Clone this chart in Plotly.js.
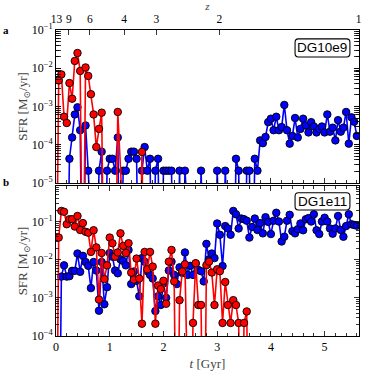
<!DOCTYPE html>
<html>
<head>
<meta charset="utf-8">
<script src="https://cdn.plot.ly/plotly-3.0.1.min.js"></script>
<style>
  html, body { margin: 0; padding: 0; background: #fff; }
  #sfr { width: 374px; height: 374px; }
</style>
</head>
<body>
<div id="sfr"></div>
<script>
// time bins [Gyr]
var t = [0.00,0.05,0.10,0.15,0.20,0.25,0.30,0.35,0.40,0.45,0.50,0.55,0.60,0.65,0.70,0.75,0.80,0.85,0.90,0.95,
         1.00,1.05,1.10,1.15,1.20,1.25,1.30,1.35,1.40,1.45,1.50,1.55,1.60,1.65,1.70,1.75,1.80,1.85,1.90,1.95,
         2.00,2.05,2.10,2.15,2.20,2.25,2.30,2.35,2.40,2.45,2.50,2.55,2.60,2.65,2.70,2.75,2.80,2.85,2.90,2.95,
         3.00,3.05,3.10,3.15,3.20,3.25,3.30,3.35,3.40,3.45,3.50,3.55,3.60,3.65,3.70,3.75,3.80,3.85,3.90,3.95,
         4.00,4.05,4.10,4.15,4.20,4.25,4.30,4.35,4.40,4.45,4.50,4.55,4.60,4.65,4.70,4.75,4.80,4.85,4.90,4.95,
         5.00,5.05,5.10,5.15,5.20,5.25,5.30,5.35,5.40,5.45,5.50,5.55,5.60]

// DG10e9, SFR [Msun/yr]  (0 = no star formation)
var dg9_red = [0,0.0048,0.0069,0.00054,0.00037,0.0041,0.0016,0.0155,0.025,0.0085,
               0,0.0105,0.0063,0.0021,0.00062,0.000087,0.00026,0.00069,0,0,
               0,0,0,0.00072,0,0,0,0,0,0,
               0,0,0.000065,0]
var dg9_blue = [0,0,0,0,0,4.3e-5,1.55e-4,6.2e-4,9.5e-4,2.4e-4,
                0,3.2e-4,2.1e-5,0,0,0,2.1e-5,6.6e-5,0,2.1e-5,
                4.3e-5,4.3e-5,2.1e-5,1.55e-4,0,2.1e-5,2.1e-5,4.3e-5,6.6e-5,6.6e-5,
                4.3e-5,0,2.1e-5,8.7e-5,2.1e-5,4.3e-5,0,2.1e-5,4.3e-5,0,
                2.1e-5,2.1e-5,2.1e-5,2.1e-5,0,0,2.1e-5,0,2.1e-5,0,
                0,0,0,0,2.1e-5,0,0,0,0,0,
                2.1e-5,0,0,2.1e-5,0,0,0,4.3e-5,2.1e-5,0,
                0,2.1e-5,2.1e-5,0,4.3e-5,2.1e-5,1.3e-4,1.1e-4,1.6e-4,3.9e-4,
                4.8e-4,2.4e-4,5.4e-4,2.4e-4,2.9e-4,1.1e-3,2.4e-4,1.07e-4,1.7e-4,5.0e-4,
                1.55e-4,2.6e-4,4.8e-4,3.2e-4,2.1e-4,3.9e-4,3.0e-4,2.1e-4,2.6e-4,3.0e-4,
                2.1e-4,6.2e-4,2.2e-4,2.8e-4,1.3e-4,4.4e-4,2.2e-4,2.8e-4,7.2e-4,1.07e-4,
                5.2e-4,4.0e-4,1.7e-4]

// DG1e11, SFR [Msun/yr]
var dg11_red = [0,0.038,0.19,0.18,0.085,0.115,0.115,0.074,0.14,0.06,
                0.091,0.054,0.051,0.016,0.059,0.021,0.0009,0.015,0.0031,0.0071,
                0.038,0.027,0.012,0.0155,0.049,0.023,0.015,0.027,0.0046,0.003,
                0.0107,0.0032,0.00021,0.016,0.0056,0.016,0.0066,0.00021,0.0021,0.0017,
                0.0028,0.0007,0.0089,0.018,0.0027,0,0.00087,0.0049,0.0076,0,
                0,0.00022,0.0081,0.00065,0.00065,0,0.0072,0.0089,0.0046,0.00065,
                0.0056,0.005,0.00022,0.0026,0.00065,0.00022,0.00087,0.00065,0.00022,0,
                0.00022,0.00044,0]
var dg11_blue = [0,0,0.0036,0.0071,0.0036,0.0037,0.0051,0.0051,0.0145,0.0048,
                 0.0126,0.0087,0.0069,0.0018,0.0087,0.0052,0.00046,0.0087,0.00068,0.0019,
                 0.015,0.012,0.0052,0.0044,0.0102,0.0093,0.0071,0.018,0.0023,0.0049,
                 0.0028,0.0011,0.011,0.0089,0.005,0.004,0.0032,0.00045,0.0011,0.00065,
                 0.0024,0.001,0.0052,0.0089,0.004,0.0023,0.0063,0.0045,0.0155,0.004,
                 0.0069,0.004,0.0079,0.0054,0.005,0.0027,0.026,0.0102,0.0145,0.011,
                 0.089,0.045,0.0068,0.076,0.066,0.045,0.19,0.155,0.066,0.12,
                 0.115,0.105,0.038,0.072,0.12,0.06,0.091,0.049,0.13,0.098,
                 0.047,0.105,0.17,0.1,0.03,0.04,0.105,0.15,0.056,0.049,
                 0.063,0.089,0.059,0.115,0.123,0.1,0.155,0.059,0.047,0.1,
                 0.126,0.1,0.066,0.048,0.066,0.14,0.06,0.04,0.076,0.155,
                 0.085,0.081,0.078]

// top axis: redshift labels and where they sit in t
var z_labels = ['13','9','6','4','3','2','1']
var z_at_t = [0.01,0.24,0.63,1.27,1.87,3.04,5.635]

// log ticks
var top_ticks = [1e-5, 1e-4, 1e-3, 1e-2, 1e-1]
var top_ticktext = ['10<sup>−5</sup>','10<sup>−4</sup>','10<sup>−3</sup>','10<sup>−2</sup>','10<sup>−1</sup>']
var bot_ticks = [1e-4, 1e-3, 1e-2, 1e-1]
var bot_ticktext = ['10<sup>−4</sup>','10<sup>−3</sup>','10<sup>−2</sup>','10<sup>−1</sup>']

// zero SFR can't sit on a log axis, push it far below the frame
function floor0(a) { return a.map(function(v){ return v > 0 ? v : 1e-9 }) }

function series(y, color, xa, ya) {
  return {
    x: t.slice(0, y.length), y: floor0(y), xaxis: xa, yaxis: ya,
    type: 'scatter', mode: 'lines+markers', cliponaxis: true,
    line: {color: color, width: 1.6},
    marker: {color: color, size: 7.5, line: {color: '#000', width: 0.9}},
    showlegend: false, hoverinfo: 'skip'
  }
}

var data = [
  series(dg9_blue, '#0000ff', 'x2', 'y2'),
  series(dg9_red, '#ff0000', 'x2', 'y2'),
  series(dg11_blue, '#0000ff', 'x', 'y'),
  series(dg11_red, '#ff0000', 'x', 'y'),
  // empty trace so the redshift axis gets drawn
  {x: [], y: [], xaxis: 'x3', yaxis: 'y2', type: 'scatter', mode: 'markers', showlegend: false}
]

function logMinors(lo, hi) {
  var out = []
  for (var e = lo; e <= hi; e++)
    for (var m = 2; m <= 9; m++) out.push(m * Math.pow(10, e))
  return out
}

// rounded label box in paper coords
function roundBox(x0, x1, y0, y1) {
  var rx = 0.011, ry = 0.011
  return {
    type: 'path', xref: 'paper', yref: 'paper',
    path: 'M' + (x0 + rx) + ',' + y1 + ' L' + (x1 - rx) + ',' + y1 +
          ' Q' + x1 + ',' + y1 + ' ' + x1 + ',' + (y1 - ry) +
          ' L' + x1 + ',' + (y0 + ry) + ' Q' + x1 + ',' + y0 + ' ' + (x1 - rx) + ',' + y0 +
          ' L' + (x0 + rx) + ',' + y0 + ' Q' + x0 + ',' + y0 + ' ' + x0 + ',' + (y0 + ry) +
          ' L' + x0 + ',' + (y1 - ry) + ' Q' + x0 + ',' + y1 + ' ' + (x0 + rx) + ',' + y1 + ' Z',
    line: {color: '#000', width: 1.1}, fillcolor: '#fff', layer: 'above'
  }
}

var serif = 'Liberation Serif, DejaVu Serif, serif'
var sans = 'Liberation Sans, Arial, sans-serif'
var tickfont = {family: serif, size: 12, color: '#000'}

var xbase = {
  range: [0, 5.64], showline: true, linecolor: '#000', linewidth: 1,
  ticks: 'inside', ticklen: 5, tickwidth: 0.8, tickcolor: '#000',
  dtick: 1, tick0: 0, zeroline: false, showgrid: false,
  minor: {ticks: 'inside', ticklen: 3, dtick: 0.2, tick0: 0, tickcolor: '#000', tickwidth: 0.8},
  tickfont: tickfont
}
var ybase = {
  type: 'log', showline: true, linecolor: '#000', linewidth: 1,
  ticks: 'inside', ticklen: 5, tickwidth: 0.8, tickcolor: '#000',
  tickmode: 'array', zeroline: false, showgrid: false,
  mirror: 'allticks', tickfont: tickfont
}

var layout = {
  width: 374, height: 374,
  margin: {l: 56, r: 15, t: 30, b: 38},
  paper_bgcolor: '#fff', plot_bgcolor: '#fff',
  xaxis: Object.assign({}, xbase, {
    anchor: 'y', mirror: 'allticks',
    title: {text: '<i>t</i> [Gyr]', font: {family: serif, size: 13}, standoff: 5}
  }),
  xaxis2: Object.assign({}, xbase, {anchor: 'y2', matches: 'x', showticklabels: false, mirror: true}),
  xaxis3: {
    overlaying: 'x2', anchor: 'y2', side: 'top', range: [0, 5.64],
    tickmode: 'array', tickvals: z_at_t, ticktext: z_labels,
    ticks: 'inside', ticklen: 5, tickwidth: 0.8, tickcolor: '#000', ticklabelstandoff: 4,
    showline: false, showgrid: false, zeroline: false,
    tickfont: {family: serif, size: 11.5, color: '#000'},
    title: {text: '<i>z</i>', font: {family: serif, size: 11}, standoff: 0}
  },
  yaxis: Object.assign({}, ybase, {
    domain: [0, 0.49], range: [-4, -0.07], anchor: 'x',
    tickvals: bot_ticks, ticktext: bot_ticktext,
    minor: {ticks: 'inside', ticklen: 3, tickmode: 'array', tickvals: logMinors(-4, -1), tickcolor: '#000', tickwidth: 0.8},
    title: {text: 'SFR [M<sub>⊙</sub>/yr]', font: {family: serif, size: 13}, standoff: 0}
  }),
  yaxis2: Object.assign({}, ybase, {
    domain: [0.5, 1], range: [-5, -1], anchor: 'x2',
    tickvals: top_ticks, ticktext: top_ticktext,
    minor: {ticks: 'inside', ticklen: 3, tickmode: 'array', tickvals: logMinors(-5, -2), tickcolor: '#000', tickwidth: 0.8},
    title: {text: 'SFR [M<sub>⊙</sub>/yr]', font: {family: serif, size: 13}, standoff: 0}
  }),
  shapes: [
    roundBox(0.789, 0.970, 0.912, 0.971),
    roundBox(0.789, 0.970, 0.412, 0.468)
  ],
  annotations: [
    {xref: 'paper', yref: 'paper', x: 0.8795, y: 0.9415, xanchor: 'center', yanchor: 'middle',
     text: 'DG10e9', showarrow: false, font: {family: sans, size: 13.5, color: '#000'}},
    {xref: 'paper', yref: 'paper', x: 0.8795, y: 0.44, xanchor: 'center', yanchor: 'middle',
     text: 'DG1e11', showarrow: false, font: {family: sans, size: 13.5, color: '#000'}},
    {xref: 'paper', yref: 'paper', x: -0.165, y: 1.0, xanchor: 'center', yanchor: 'middle',
     text: '<b>a</b>', showarrow: false, font: {family: serif, size: 11, color: '#000'}},
    {xref: 'paper', yref: 'paper', x: -0.165, y: 0.503, xanchor: 'center', yanchor: 'middle',
     text: '<b>b</b>', showarrow: false, font: {family: serif, size: 11, color: '#000'}}
  ]
}

Plotly.newPlot('sfr', data, layout, {displayModeBar: false, staticPlot: true})
</script>
</body>
</html>
